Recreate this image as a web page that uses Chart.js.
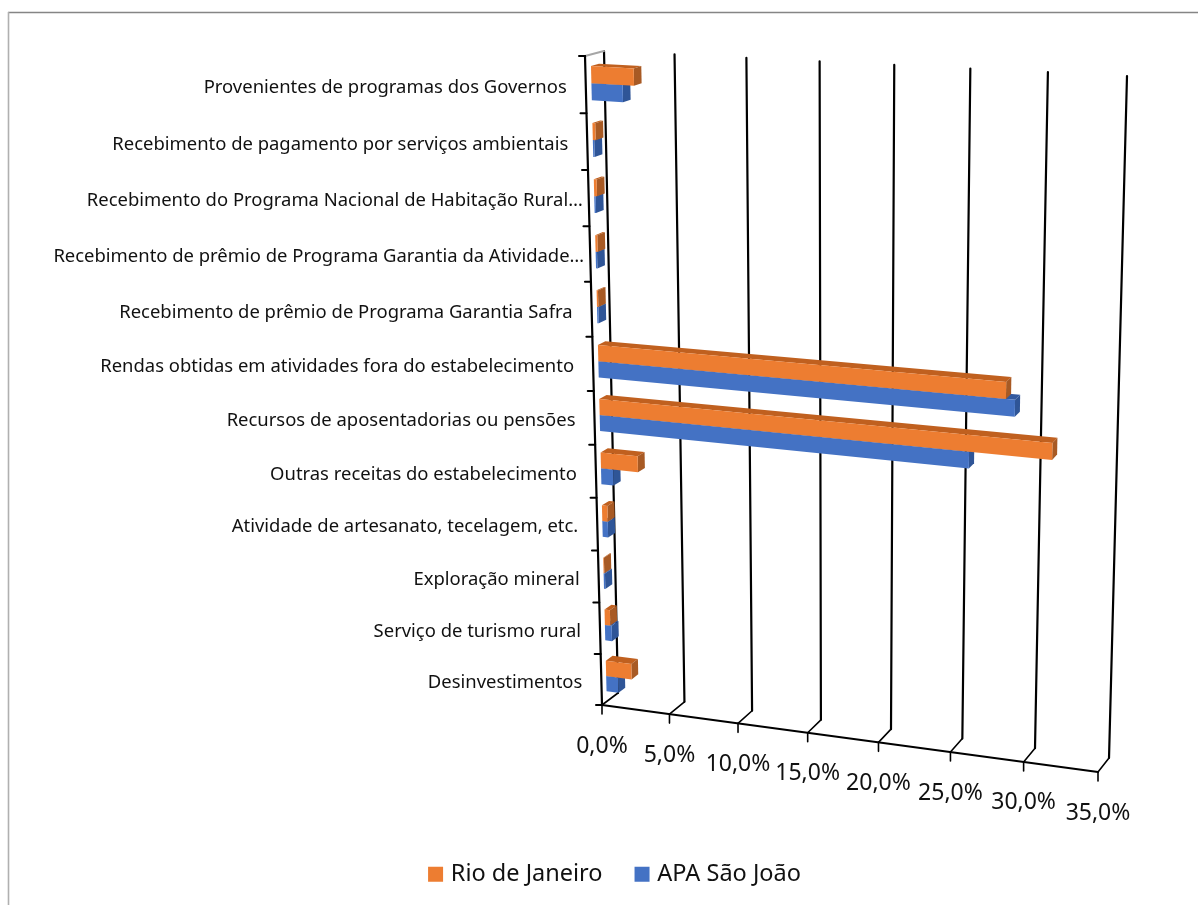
<!DOCTYPE html>
<html lang="pt-BR">
<head>
<meta charset="utf-8">
<title>Fontes de receita</title>
<script src="https://cdn.jsdelivr.net/npm/chart.js@4"></script>
<style>
  html, body { margin: 0; padding: 0; background: #fff; }
  #quadro { position: relative; width: 1198px; height: 905px; overflow: hidden; }
  #grafico { display: block; }
</style>
</head>
<body>
<div id="quadro"><canvas id="grafico" width="1198" height="905"></canvas></div>
<script>
// Dados
const categorias = [
  'Provenientes de programas dos Governos',
  'Recebimento de pagamento por serviços ambientais',
  'Recebimento do Programa Nacional de Habitação Rural…',
  'Recebimento de prêmio de Programa Garantia da Atividade…',
  'Recebimento de prêmio de Programa Garantia Safra',
  'Rendas obtidas em atividades fora do estabelecimento',
  'Recursos de aposentadorias ou pensões',
  'Outras receitas do estabelecimento',
  'Atividade de artesanato, tecelagem, etc.',
  'Exploração mineral',
  'Serviço de turismo rural',
  'Desinvestimentos'
];
const rioDeJaneiro = [3.0, 0.2, 0.2, 0.15, 0.1, 28.2, 31.3, 2.7, 0.4, 0.05, 0.4, 1.9];
const apaSaoJoao = [2.2, 0.1, 0.1, 0.1, 0.1, 28.8, 25.8, 0.9, 0.4, 0.1, 0.5, 0.9];
const passoEixo = 5;
const maximoEixo = 35;

// Caixa em perspectiva: cantos do plano da frente e do fundo (sup-esq, sup-dir, inf-dir, inf-esq)
const planoFrente = [[585, 56], [1115, 87], [1098, 772], [602, 705]];
const planoFundo = [[604, 51], [1127, 76], [1109, 758], [618, 693]];
const fundoBarra = [0.3, 0.72];

// Homografia do quadrado unitario para um quadrilatero
function homografia(q) {
  const [p0, p1, p2, p3] = q;
  const dx1 = p1[0] - p2[0], dx2 = p3[0] - p2[0], sx = p0[0] - p1[0] + p2[0] - p3[0];
  const dy1 = p1[1] - p2[1], dy2 = p3[1] - p2[1], sy = p0[1] - p1[1] + p2[1] - p3[1];
  const det = dx1 * dy2 - dx2 * dy1;
  const g = (sx * dy2 - dx2 * sy) / det;
  const h = (dx1 * sy - sx * dy1) / det;
  const a = p1[0] - p0[0] + g * p1[0], b = p3[0] - p0[0] + h * p3[0];
  const d = p1[1] - p0[1] + g * p1[1], e = p3[1] - p0[1] + h * p3[1];
  return (u, v) => {
    const w = g * u + h * v + 1;
    return [(a * u + b * v + p0[0]) / w, (d * u + e * v + p0[1]) / w];
  };
}
const projFrente = homografia(planoFrente);
const projFundo = homografia(planoFundo);

// Ponto da area do grafico (pixels das escalas) levado para a caixa 3D
function projetar(chart, px, py, z) {
  const a = chart.chartArea;
  const u = (px - a.left) / (a.right - a.left);
  const v = (py - a.top) / (a.bottom - a.top);
  const f = projFrente(u, v), t = projFundo(u, v);
  return [f[0] + (t[0] - f[0]) * z, f[1] + (t[1] - f[1]) * z];
}

function linha(ctx, a, b, cor, largura) {
  ctx.strokeStyle = cor;
  ctx.lineWidth = largura;
  ctx.beginPath();
  ctx.moveTo(a[0], a[1]);
  ctx.lineTo(b[0], b[1]);
  ctx.stroke();
}

function face(ctx, pontos, cor) {
  ctx.fillStyle = cor;
  ctx.beginPath();
  pontos.forEach((p, i) => i ? ctx.lineTo(p[0], p[1]) : ctx.moveTo(p[0], p[1]));
  ctx.closePath();
  ctx.fill();
}

const caixa3d = {
  id: 'caixa3d',
  beforeDatasetsDraw(chart) {
    const { ctx, chartArea: area, scales: { x, y } } = chart;
    const P = (px, py, z) => projetar(chart, px, py, z);
    ctx.save();

    // borda do quadro: so topo e esquerda
    linha(ctx, [8, 12.5], [1198, 12.5], '#858585', 1.4);
    linha(ctx, [8.5, 12], [8.5, 905], '#b0b0b0', 1.6);

    ctx.lineCap = 'round';

    // grades verticais e piso
    x.ticks.forEach(t => {
      const px = x.getPixelForValue(t.value);
      const fundoTopo = P(px, area.top, 1), fundoBase = P(px, area.bottom, 1);
      const frenteBase = P(px, area.bottom, 0);
      linha(ctx, fundoTopo, fundoBase, '#000', 2.2);
      linha(ctx, fundoBase, frenteBase, '#000', 1.6);
      linha(ctx, frenteBase, [frenteBase[0], frenteBase[1] + 9], '#000', 1.6);
      ctx.fillStyle = '#111';
      ctx.font = '23px "Noto Sans"';
      ctx.textAlign = 'center';
      ctx.textBaseline = 'middle';
      ctx.fillText(t.label, frenteBase[0], frenteBase[1] + 41);
    });

    // parede lateral e eixos
    linha(ctx, P(area.left, area.top, 0), P(area.left, area.top, 1), '#a6a6a6', 2);
    linha(ctx, P(area.left, area.top, 0), P(area.left, area.bottom, 0), '#000', 2.2);
    linha(ctx, P(area.left, area.bottom, 0), P(area.right, area.bottom, 0), '#000', 2);

    // marcas e rotulos das categorias
    const n = categorias.length;
    const banda = (area.bottom - area.top) / n;
    for (let i = 0; i <= n; i++) {
      const m = P(area.left, area.top + banda * i, 0);
      linha(ctx, [m[0] - 6, m[1]], m, '#000', 2);
    }
    ctx.fillStyle = '#111';
    ctx.font = '18.45px "Noto Sans"';
    ctx.textAlign = 'right';
    ctx.textBaseline = 'middle';
    categorias.forEach((rotulo, i) => {
      const c = P(area.left, y.getPixelForValue(i), 0);
      const folga = rotulo.endsWith('…') ? 6 : 19;
      ctx.fillText(rotulo, c[0] - folga, c[1] + 3);
    });

    // barras: a serie de baixo primeiro, para a de cima cobrir o topo dela
    const cores = [
      { frente: '#ed7d31', topo: '#c0601f', lado: '#a85a24' },
      { frente: '#4472c4', topo: '#335aa0', lado: '#2f5597' }
    ];
    [1, 0].forEach(ds => {
      const cor = cores[ds];
      chart.getDatasetMeta(ds).data.forEach(b => {
        const y0 = b.y - b.height / 2, y1 = b.y + b.height / 2;
        const x0 = b.base, x1 = b.x;
        const [z0, z1] = fundoBarra;
        face(ctx, [P(x0, y0, z1), P(x1, y0, z1), P(x1, y0, z0), P(x0, y0, z0)], cor.topo);
        face(ctx, [P(x1, y0, z0), P(x1, y0, z1), P(x1, y1, z1), P(x1, y1, z0)], cor.lado);
        face(ctx, [P(x0, y0, z0), P(x1, y0, z0), P(x1, y1, z0), P(x0, y1, z0)], cor.frente);
      });
    });
    ctx.restore();
    return false;
  }
};

new Chart(document.getElementById('grafico'), {
  type: 'bar',
  plugins: [caixa3d],
  data: {
    labels: categorias,
    datasets: [
      { label: 'Rio de Janeiro', data: rioDeJaneiro, backgroundColor: '#ed7d31', borderWidth: 0 },
      { label: 'APA São João', data: apaSaoJoao, backgroundColor: '#4472c4', borderWidth: 0 }
    ]
  },
  options: {
    indexAxis: 'y',
    responsive: false,
    animation: false,
    categoryPercentage: 0.6,
    barPercentage: 1,
    layout: { padding: { left: 35, right: 0, top: 60, bottom: 9 } },
    scales: {
      // as escalas so calculam posicoes; o desenho fica com o plugin
      x: {
        min: 0, max: maximoEixo,
        grid: { display: false }, border: { display: false },
        ticks: { display: false, stepSize: passoEixo, callback: v => v.toFixed(1).replace('.', ',') + '%' }
      },
      y: { grid: { display: false }, border: { display: false }, ticks: { display: false } }
    },
    plugins: {
      tooltip: { enabled: false },
      legend: {
        position: 'bottom',
        labels: {
          usePointStyle: true, pointStyle: 'rect', boxWidth: 7, boxHeight: 15, padding: 36,
          color: '#111', font: { family: '"Noto Sans"', size: 23.5 }
        }
      }
    }
  }
});
</script>
</body>
</html>
